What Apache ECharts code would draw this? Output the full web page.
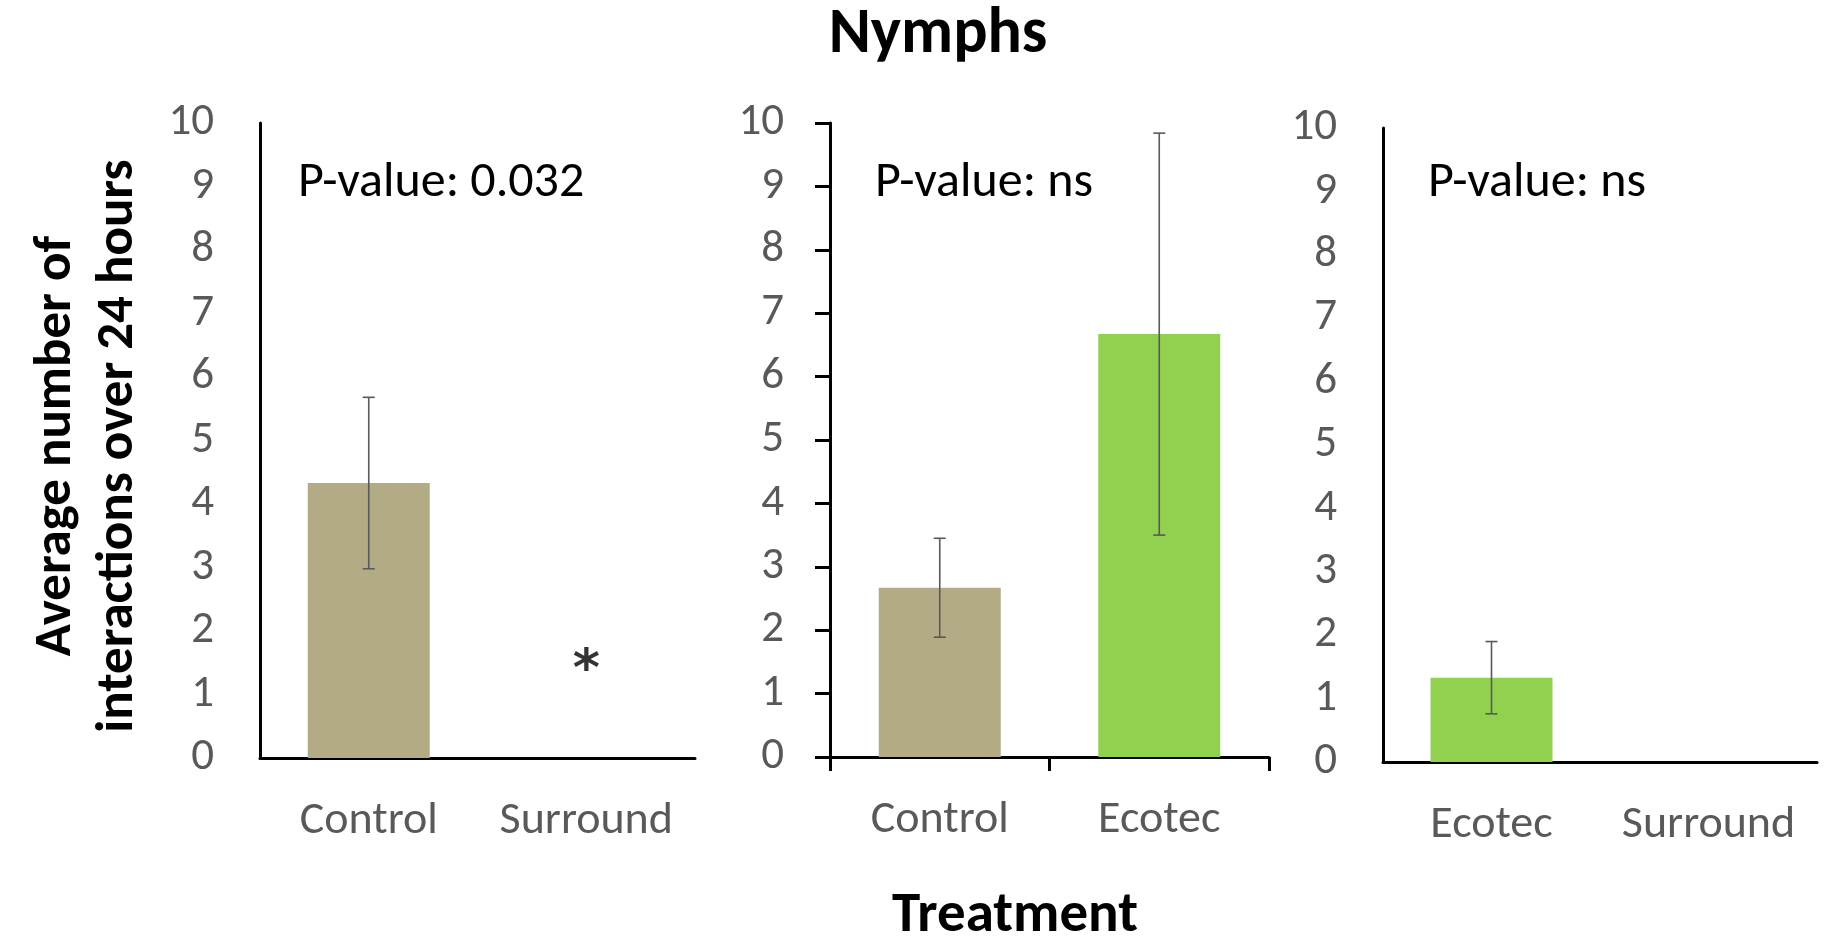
<!DOCTYPE html>
<html>
<head>
<meta charset="utf-8">
<title>Nymphs</title>
<script src="https://cdn.jsdelivr.net/npm/echarts@6/dist/echarts.min.js"></script>
<style>
  html, body { margin: 0; padding: 0; background: #fff; }
  #chart { width: 1825px; height: 940px; }
</style>
</head>
<body>
<div id="chart"></div>
<script>
// data (mean number of interactions and standard error)
const controlSurroundCats = ['Control', 'Surround'];
const controlSurroundMeans = [4.33, 0];
const controlSurroundErrs = [1.35, 0];

const controlEcotecCats = ['Control', 'Ecotec'];
const controlEcotecMeans = [2.67, 6.67];
const controlEcotecErrs = [0.78, 3.17];

const ecotecSurroundCats = ['Ecotec', 'Surround'];
const ecotecSurroundMeans = [1.33, 0];
const ecotecSurroundErrs = [0.57, 0];

const pValues = ['P-value: 0.032', 'P-value: ns', 'P-value: ns'];
const starMarks = [['Surround', 1.5]];
const yTicks = [0, 10, 1]; // min, max, interval

const FONT = 'Carlito, Calibri, Lato, sans-serif';
const colors = { Control: '#B3AB86', Ecotec: '#92D050', Surround: '#B3AB86' };

const myChart = echarts.init(document.getElementById('chart'));

function barSeries(idx, cats, means) {
  return {
    type: 'bar',
    xAxisIndex: idx,
    yAxisIndex: idx,
    barWidth: 122,
    data: means.map((v, i) => ({
      value: v,
      itemStyle: { color: colors[cats[i]] }
    }))
  };
}

function errorSeries(idx, cats, means, errs) {
  return {
    type: 'custom',
    xAxisIndex: idx,
    yAxisIndex: idx,
    z: 5,
    data: means.map((m, i) => [i, m - errs[i], m + errs[i]]).filter((d, i) => errs[i] > 0),
    renderItem: function (params, api) {
      const lo = api.coord([api.value(0), api.value(1)]);
      const hi = api.coord([api.value(0), api.value(2)]);
      const cap = 6;
      const style = { stroke: '#595959', lineWidth: 1.6 };
      return {
        type: 'group',
        children: [
          { type: 'line', shape: { x1: hi[0], y1: hi[1], x2: lo[0], y2: lo[1] }, style: style },
          { type: 'line', shape: { x1: hi[0] - cap, y1: hi[1], x2: hi[0] + cap, y2: hi[1] }, style: style },
          { type: 'line', shape: { x1: lo[0] - cap, y1: lo[1], x2: lo[0] + cap, y2: lo[1] }, style: style }
        ]
      };
    }
  };
}

function xAxis(idx, cats, withTicks) {
  return {
    type: 'category',
    gridIndex: idx,
    data: cats,
    axisLine: { lineStyle: { color: '#000', width: 3 } },
    axisTick: { show: withTicks, length: 14, lineStyle: { color: '#000', width: 3 } },
    axisLabel: { color: '#595959', fontSize: 46, fontFamily: FONT, margin: 40, interval: 0, hideOverlap: false }
  };
}

function yAxis(idx, withTicks) {
  return {
    type: 'value',
    gridIndex: idx,
    min: yTicks[0],
    max: yTicks[1],
    interval: yTicks[2],
    splitLine: { show: false },
    axisLine: { show: true, lineStyle: { color: '#000', width: 3 } },
    axisTick: { show: withTicks, length: 15, lineStyle: { color: '#000', width: 3 } },
    axisLabel: { color: '#595959', fontSize: 45, fontFamily: FONT, margin: 46 }
  };
}

const option = {
  backgroundColor: '#fff',
  animation: false,
  grid: [
    { left: 260, top: 123, width: 435, height: 635 },
    { left: 830, top: 123, width: 439, height: 634 },
    { left: 1383, top: 128, width: 434, height: 634 }
  ],
  xAxis: [
    xAxis(0, controlSurroundCats, false),
    xAxis(1, controlEcotecCats, true),
    xAxis(2, ecotecSurroundCats, false)
  ],
  yAxis: [yAxis(0, false), yAxis(1, true), yAxis(2, false)],
  graphic: [
    {
      type: 'text', x: 938, y: 36,
      style: { text: 'Nymphs', font: 'bold 64px ' + FONT, fill: '#000', align: 'center', verticalAlign: 'middle' }
    },
    {
      type: 'text', x: 88, y: 446, rotation: Math.PI / 2,
      style: {
        text: 'Average number of\ninteractions over 24 hours',
        font: 'bold 53px ' + FONT, fill: '#000',
        align: 'center', verticalAlign: 'middle', lineHeight: 62
      }
    },
    {
      type: 'text', x: 1015, y: 917,
      style: { text: 'Treatment', font: 'bold 57px ' + FONT, fill: '#000', align: 'center', verticalAlign: 'middle' }
    },
    {
      type: 'text', x: 298, y: 183,
      style: { text: pValues[0], font: '50px ' + FONT, fill: '#000', verticalAlign: 'middle' }
    },
    {
      type: 'text', x: 875, y: 183,
      style: { text: pValues[1], font: '50px ' + FONT, fill: '#000', verticalAlign: 'middle' }
    },
    {
      type: 'text', x: 1428, y: 183,
      style: { text: pValues[2], font: '50px ' + FONT, fill: '#000', verticalAlign: 'middle' }
    }
  ],
  series: [
    barSeries(0, controlSurroundCats, controlSurroundMeans),
    barSeries(1, controlEcotecCats, controlEcotecMeans),
    barSeries(2, ecotecSurroundCats, ecotecSurroundMeans),
    errorSeries(0, controlSurroundCats, controlSurroundMeans, controlSurroundErrs),
    errorSeries(1, controlEcotecCats, controlEcotecMeans, controlEcotecErrs),
    errorSeries(2, ecotecSurroundCats, ecotecSurroundMeans, ecotecSurroundErrs),
    {
      type: 'scatter',
      xAxisIndex: 0,
      yAxisIndex: 0,
      symbolSize: 1,
      itemStyle: { color: 'rgba(0,0,0,0)' },
      label: {
        show: true, position: 'inside', formatter: '*', offset: [0, 9],
        fontSize: 52, fontWeight: 'bold', fontFamily: 'DejaVu Sans', color: '#000'
      },
      data: starMarks
    }
  ]
};

myChart.setOption(option);
window.addEventListener('resize', () => myChart.resize());
</script>
</body>
</html>
